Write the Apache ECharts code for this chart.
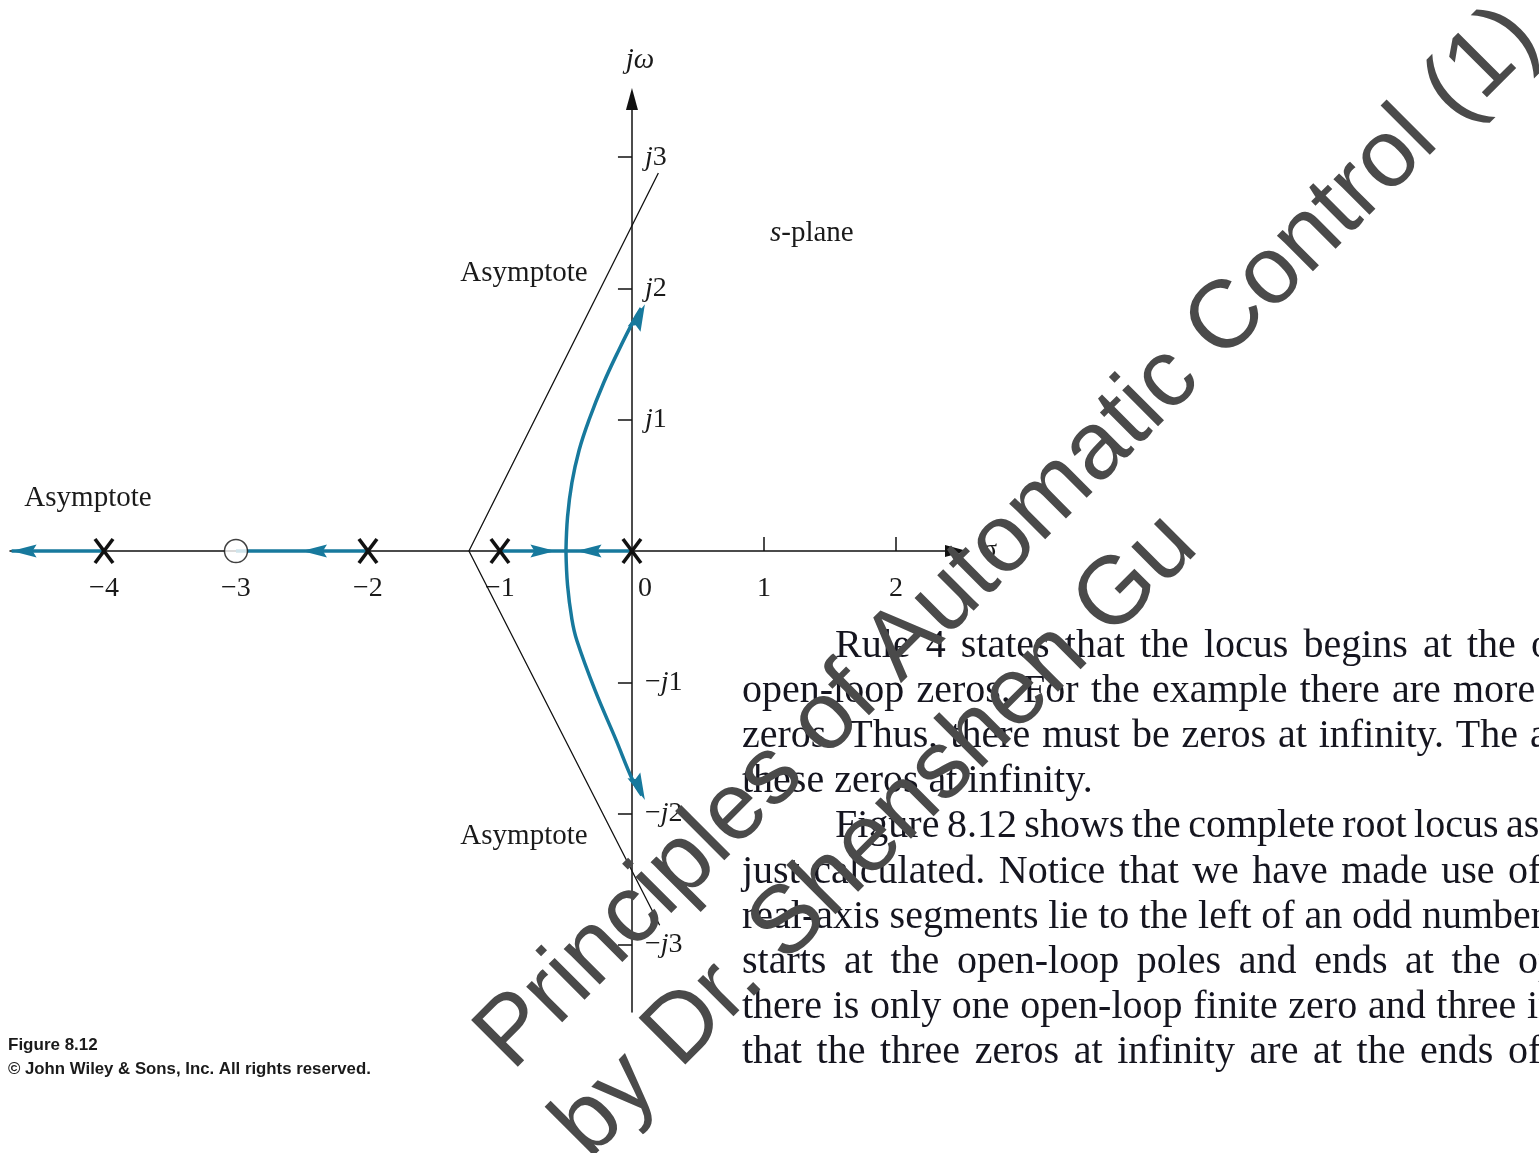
<!DOCTYPE html>
<html>
<head>
<meta charset="utf-8">
<title>Root locus – Figure 8.12</title>
<script src="https://cdn.jsdelivr.net/npm/echarts@6/dist/echarts.min.js"></script>
<style>
  html, body { margin: 0; padding: 0; background: #ffffff; }
  #chart { width: 1539px; height: 1153px; }
</style>
</head>
<body>
<div id="chart"></div>
<script>
// ---- s-plane data -------------------------------------------------------
const poles = [0, -1, -2, -4];            // open-loop poles (×)
const zeros = [-3];                       // open-loop zero (○)

// real-axis parts of the locus: [start, end]
const realLocus = [[-4, -4.70], [-2, -3], [-1, -0.5], [0, -0.5]];

// complex branches leaving the breakaway point
const upperBranch = [[-0.5, 0], [-0.488, 0.26], [-0.455, 0.52], [-0.40, 0.77], [-0.325, 1.0],
                     [-0.215, 1.28], [-0.10, 1.53], [0.005, 1.74], [0.07, 1.85]];
const lowerBranch = [[-0.5, 0], [-0.488, -0.26], [-0.455, -0.52], [-0.418, -0.68], [-0.28, -1.06],
                     [-0.12, -1.44], [0.005, -1.744], [0.075, -1.86]];

// asymptotes: vertex on the real axis and the two far ends
const asymptoteVertex = [-1.235, 0];
const asymptoteEnds = [[0.20, 2.88], [0.21, -2.85]];

// direction arrows: [tipX, tipY, fromX, fromY]
const axisArrows = [[-4.70, 0, -4.4, 0], [-2.50, 0, -2.2, 0], [-0.58, 0, -0.8, 0], [-0.42, 0, -0.2, 0]];
const branchArrows = [[0.098, 1.88, 0.02, 1.70], [0.098, -1.896, 0.02, -1.72]];

// axis ticks and labels
const xTickValues = [1, 2];
const xLabelValues = [-4, -3, -2, -1, 0, 1, 2];
const yTickValues = [-3, -2, -1, 1, 2, 3];

// text blocks
const asymptoteLabel = 'Asymptote';
const captionLines = ['Figure 8.12', '\u00A9 John Wiley & Sons, Inc. All rights reserved.'];
const paragraphLines = [
  'Rule 4 states that the locus begins at the open-loop',
  'open-loop zeros. For the example there are more',
  'zeros. Thus, there must be zeros at infinity. The asymptotes',
  'these zeros at infinity.',
  'Figure 8.12 shows the complete root locus as',
  'just calculated. Notice that we have made use of',
  'real-axis segments lie to the left of an odd number',
  'starts at the open-loop poles and ends at the open-loop',
  'there is only one open-loop finite zero and three infinite',
  'that the three zeros at infinity are at the ends of'
];
const watermarkLines = ['Principles of Automatic Control (1)', 'by Dr. Shenshen Gu'];

// ---- layout & style ------------------------------------------------------
const TEAL = '#17799d';
const INK = '#111111';
const SERIF = '"Liberation Serif", "Times New Roman", serif';
const SANS = '"Liberation Sans", Arial, sans-serif';
const X_RANGE = [-4.712, 2.455];
const Y_RANGE = [-3.511, 3.443];
const GRID = { left: 10, top: 99, width: 946, height: 913 };
// the axes cross at the origin: shift them inwards from the grid edges
const X_AXIS_OFFSET = -GRID.height * (0 - Y_RANGE[0]) / (Y_RANGE[1] - Y_RANGE[0]);
const Y_AXIS_OFFSET = -GRID.width * (0 - X_RANGE[0]) / (X_RANGE[1] - X_RANGE[0]);

// paragraph layout: left edge, x where the last word starts (justified lines)
const paraLayout = [
  { left: 835, lastStart: 1531 },
  { left: 742, lastStart: 1453 },
  { left: 742, lastStart: 1530 },
  { left: 742, lastStart: null },
  { left: 835, lastStart: 1506 },
  { left: 742, lastStart: 1508 },
  { left: 742, lastStart: 1422 },
  { left: 742, lastStart: 1518 },
  { left: 742, lastStart: 1527 },
  { left: 742, lastStart: 1508 }
];
const PARA_FONT = '40px ' + SERIF;
const PARA_TOP = 646, PARA_STEP = 45.2;

const measureCtx = document.createElement('canvas').getContext('2d');
measureCtx.font = PARA_FONT;

function paragraphElements() {
  const out = [];
  paragraphLines.forEach((line, li) => {
    const words = line.split(' ');
    const widths = words.map(w => measureCtx.measureText(w).width);
    const lay = paraLayout[li];
    let gap = measureCtx.measureText(' ').width;
    if (lay.lastStart != null && words.length > 1) {
      let used = 0;
      for (let i = 0; i < words.length - 1; i++) used += widths[i];
      gap = (lay.lastStart - lay.left - used) / (words.length - 1);
    }
    let x = lay.left;
    const y = PARA_TOP + li * PARA_STEP;
    words.forEach((w, i) => {
      out.push({
        type: 'text', x: x, y: y, z: 10,
        style: { text: w, font: PARA_FONT, fill: '#15151f', align: 'left', verticalAlign: 'middle',
                 textAlign: 'left', textVerticalAlign: 'middle' }
      });
      x += widths[i] + gap;
    });
  });
  return out;
}

function watermarkElements() {
  const ang = 45 * Math.PI / 180;
  const u = [Math.cos(ang), -Math.sin(ang)];     // along the baseline
  const down = [Math.sin(ang), Math.cos(ang)];   // towards the next line
  const size = 96;
  const start = [517, 1077];                     // baseline start of the first line
  const lineGap = 117, lineShift = -8;
  const mid = 0.347 * size;                      // baseline sits below the middle anchor
  return watermarkLines.map((t, i) => {
    const bx = start[0] + down[0] * lineGap * i + u[0] * lineShift * i;
    const by = start[1] + down[1] * lineGap * i + u[1] * lineShift * i;
    return {
      type: 'text', x: bx - down[0] * mid, y: by - down[1] * mid, rotation: ang, z: 100,
      style: { text: t, font: size + 'px ' + SANS, fill: '#4a4a4a', align: 'left', verticalAlign: 'middle',
               textAlign: 'left', textVerticalAlign: 'middle' }
    };
  });
}

function labelText(text, x, y, size) {
  return {
    type: 'text', x: x, y: y, z: 10,
    style: { text: text, font: size + 'px ' + SERIF, fill: '#1a1a1a', align: 'center', verticalAlign: 'middle',
             textAlign: 'center', textVerticalAlign: 'middle' }
  };
}

function arrowRenderer(len, width) {
  return function (params, api) {
    const tip = api.coord([api.value(0), api.value(1)]);
    const from = api.coord([api.value(2), api.value(3)]);
    let dx = tip[0] - from[0], dy = tip[1] - from[1];
    const d = Math.sqrt(dx * dx + dy * dy) || 1;
    dx /= d; dy /= d;
    const nx = -dy, ny = dx;
    const bx = tip[0] - dx * len, by = tip[1] - dy * len;
    const notch = 4;
    return {
      type: 'polygon',
      shape: { points: [
        tip,
        [bx + nx * width / 2, by + ny * width / 2],
        [tip[0] - dx * (len - notch), tip[1] - dy * (len - notch)],
        [bx - nx * width / 2, by - ny * width / 2]
      ] },
      style: { fill: TEAL }
    };
  };
}

const chart = echarts.init(document.getElementById('chart'), null, { renderer: 'canvas' });

const labelFont = { fontFamily: SERIF, fontSize: 28, color: '#1a1a1a' };

chart.setOption({
  animation: false,
  backgroundColor: '#ffffff',
  grid: Object.assign({ containLabel: false }, GRID),
  xAxis: {
    type: 'value', min: X_RANGE[0], max: X_RANGE[1], position: 'bottom', offset: X_AXIS_OFFSET,
    splitLine: { show: false },
    name: '\u03C3', nameLocation: 'end', nameGap: 26,
    nameTextStyle: { fontFamily: SERIF, fontSize: 28, color: '#1a1a1a', padding: [14, 0, 0, 0] },
    axisLine: { onZero: false, symbol: ['none', 'triangle'], symbolSize: [12, 22],
                lineStyle: { color: INK, width: 1.5 } },
    axisTick: { show: true, inside: true, length: 14, customValues: xTickValues,
                lineStyle: { color: INK, width: 1.5 } },
    axisLabel: Object.assign({
      customValues: xLabelValues, margin: 24,
      formatter: v => v === 0 ? '{z|0}' : (v < 0 ? '\u2212' + (-v) : String(v)),
      rich: { z: { fontFamily: SERIF, fontSize: 28, color: '#1a1a1a', padding: [0, 0, 0, 26] } }
    }, labelFont)
  },
  yAxis: {
    type: 'value', min: Y_RANGE[0], max: Y_RANGE[1], position: 'left', offset: Y_AXIS_OFFSET,
    splitLine: { show: false },
    name: '{i|j\u03C9}', nameLocation: 'end', nameGap: 24,
    nameTextStyle: { fontFamily: SERIF, fontSize: 28, color: '#1a1a1a', padding: [0, 0, 0, 16],
                     rich: { i: { fontFamily: SERIF, fontSize: 29, fontStyle: 'italic', color: '#1a1a1a' } } },
    axisLine: { onZero: false, symbol: ['none', 'triangle'], symbolSize: [12, 22],
                lineStyle: { color: INK, width: 1.5 } },
    axisTick: { show: true, inside: false, length: 14, customValues: yTickValues,
                lineStyle: { color: INK, width: 1.5 } },
    axisLabel: Object.assign({
      customValues: yTickValues, inside: true, margin: 13,
      formatter: v => (v < 0 ? '\u2212' : '') + '{i|j}' + Math.abs(v),
      rich: { i: { fontFamily: SERIF, fontSize: 28, fontStyle: 'italic', color: '#1a1a1a' } }
    }, labelFont)
  },
  series: [
    {
      name: 'asymptotes', type: 'line', z: 2, silent: true, showSymbol: false,
      data: [asymptoteEnds[0], asymptoteVertex, asymptoteEnds[1]],
      lineStyle: { color: INK, width: 1.3 }
    },
    {
      name: 'real-axis locus', type: 'lines', coordinateSystem: 'cartesian2d', z: 3, silent: true,
      data: realLocus.map(s => ({ coords: [[s[0], 0], [s[1], 0]] })),
      lineStyle: { color: TEAL, width: 3.5, opacity: 1 }
    },
    {
      name: 'upper branch', type: 'line', z: 3, silent: true, showSymbol: false, smooth: 0.4,
      data: upperBranch, lineStyle: { color: TEAL, width: 3.5 }
    },
    {
      name: 'lower branch', type: 'line', z: 3, silent: true, showSymbol: false, smooth: 0.4,
      data: lowerBranch, lineStyle: { color: TEAL, width: 3.5 }
    },
    {
      name: 'axis arrows', type: 'custom', z: 4, silent: true,
      renderItem: arrowRenderer(25, 13), data: axisArrows, encode: { x: [0, 2], y: [1, 3] }
    },
    {
      name: 'branch arrows', type: 'custom', z: 4, silent: true,
      renderItem: arrowRenderer(27, 14), data: branchArrows, encode: { x: [0, 2], y: [1, 3] }
    },
    {
      name: 'poles', type: 'custom', z: 5, silent: true,
      data: poles.map(p => [p, 0]),
      renderItem: function (params, api) {
        const c = api.coord([api.value(0), api.value(1)]);
        const hw = 9, hh = 12;
        const st = { stroke: INK, lineWidth: 3.6 };
        return {
          type: 'group', children: [
            { type: 'line', shape: { x1: c[0] - hw, y1: c[1] - hh, x2: c[0] + hw, y2: c[1] + hh }, style: st },
            { type: 'line', shape: { x1: c[0] + hw, y1: c[1] - hh, x2: c[0] - hw, y2: c[1] + hh }, style: st }
          ]
        };
      }
    },
    {
      name: 'zeros', type: 'scatter', z: 6, silent: true,
      data: zeros.map(z => [z, 0]), symbol: 'circle', symbolSize: 23,
      itemStyle: { color: '#ffffff', borderColor: INK, borderWidth: 1.5 }
    }
  ],
  graphic: [].concat(
    [
      labelText(asymptoteLabel, 524, 273, 29),
      labelText(asymptoteLabel, 88, 498, 29),
      labelText(asymptoteLabel, 524, 836, 29),
      {
        type: 'text', x: 770, y: 233, z: 10,
        style: {
          text: '{i|s}-plane', font: '29px ' + SERIF, fill: '#1a1a1a', align: 'left', verticalAlign: 'middle',
          textAlign: 'left', textVerticalAlign: 'middle',
          rich: { i: { fontStyle: 'italic', fontFamily: SERIF, fontSize: 29, fill: '#1a1a1a' } }
        }
      },
      {
        type: 'text', x: 8, y: 1045, z: 10,
        style: { text: captionLines[0], font: 'bold 17px ' + SANS, fill: '#1a1a1a', align: 'left', verticalAlign: 'middle',
                 textAlign: 'left', textVerticalAlign: 'middle' }
      },
      {
        type: 'text', x: 8, y: 1069, z: 10,
        style: { text: captionLines[1], font: 'bold 16.8px ' + SANS, fill: '#1a1a1a', align: 'left', verticalAlign: 'middle',
                 textAlign: 'left', textVerticalAlign: 'middle' }
      }
    ],
    paragraphElements(),
    watermarkElements()
  )
});
</script>
</body>
</html>
